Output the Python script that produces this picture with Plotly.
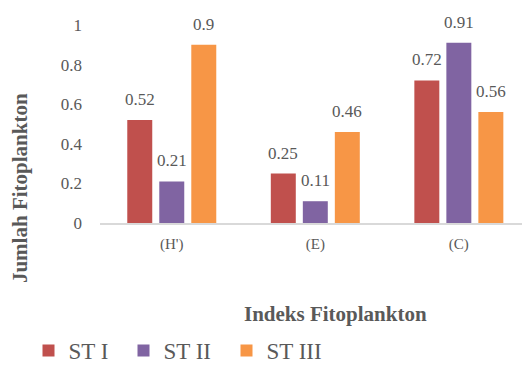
import plotly.graph_objects as go

# Phytoplankton index values per station
categories = ["(H')", "(E)", "(C)"]
series_names = ["ST I", "ST II", "ST III"]
st1 = [0.52, 0.25, 0.72]
st2 = [0.21, 0.11, 0.91]
st3 = [0.9, 0.46, 0.56]
y_ticks = [0, 0.2, 0.4, 0.6, 0.8, 1]

colors = ["#C0504D", "#8064A2", "#F79646"]
legend_widths = [50, 58, 60]   # px reserved for each legend label
FONT = "Liberation Serif"
GREY = "#595959"
BAR_W = 0.174   # bar width in category units
STEP = 0.223    # distance between bar centres inside a group

W, H = 522, 372
ML, MR, MT, MB = 100, 0, 25, 143
plot_w = W - ML - MR
plot_h = H - MT - MB


def px_x(p):
    return (p - ML) / plot_w


def px_y(p):
    return (H - MB - p) / plot_h


fig = go.Figure()
annotations = []
for i, (name, vals, col, lw) in enumerate(zip(series_names, [st1, st2, st3], colors, legend_widths)):
    off = (i - 1) * STEP - BAR_W / 2
    fig.add_trace(go.Bar(
        x=categories, y=vals, name=name,
        marker=dict(color=col, line=dict(width=0)),
        width=BAR_W, offset=off, legendwidth=lw,
    ))
    # value labels above each bar
    for k, v in enumerate(vals):
        annotations.append(dict(
            x=k + off + BAR_W / 2, y=v, xref="x", yref="y",
            text=f"{v:g}", showarrow=False, yanchor="bottom", yshift=9,
            font=dict(family=FONT, size=17, color=GREY),
        ))

annotations.append(dict(
    x=px_x(335), y=px_y(323), xref="paper", yref="paper",
    text="<b>Indeks Fitoplankton</b>", showarrow=False,
    xanchor="center", yanchor="middle",
    font=dict(family=FONT, size=21, color=GREY),
))
annotations.append(dict(
    x=px_x(20), y=px_y(193), xref="paper", yref="paper",
    text="<b>Jumlah Fitoplankton</b>", showarrow=False, textangle=-90,
    xanchor="center", yanchor="middle",
    font=dict(family=FONT, size=21, color=GREY),
))

fig.update_layout(
    width=W, height=H,
    margin=dict(l=ML, r=MR, t=MT, b=MB, pad=0),
    paper_bgcolor="white", plot_bgcolor="white",
    barmode="overlay",
    font=dict(family=FONT, color=GREY),
    annotations=annotations,
    showlegend=True,
    legend=dict(
        orientation="h", x=px_x(28.5), xanchor="left",
        y=px_y(361), yanchor="middle",
        font=dict(family=FONT, size=23, color=GREY),
        bgcolor="rgba(0,0,0,0)",
    ),
    xaxis=dict(
        type="category", range=[-0.5, 2.44],
        showline=True, linecolor="#D9D9D9", linewidth=1.5,
        showgrid=False, zeroline=False, ticks="",
        tickfont=dict(family=FONT, size=15, color=GREY),
        ticklabelstandoff=6,
    ),
    yaxis=dict(
        range=[0, 1], tickvals=y_ticks,
        ticktext=[f"{t:g}" for t in y_ticks],
        showline=False, showgrid=False, zeroline=False, ticks="",
        tickfont=dict(family=FONT, size=17, color=GREY),
        ticklabelstandoff=17,
    ),
)

fig.write_html("out.html")
